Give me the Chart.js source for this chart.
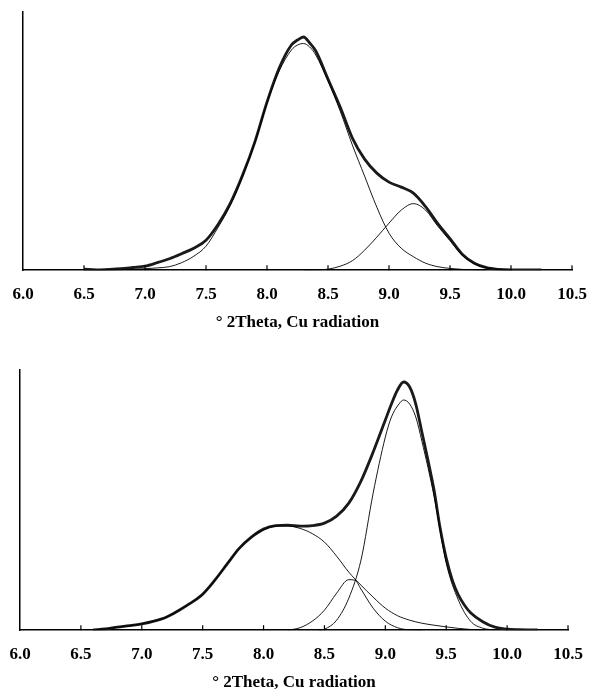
<!DOCTYPE html>
<html>
<head>
<meta charset="utf-8">
<script src="https://cdn.jsdelivr.net/npm/chart.js@4.4.1/dist/chart.umd.min.js"></script>
<style>
  html, body { margin: 0; padding: 0; background: #fff; }
  body { width: 589px; height: 689px; position: relative; overflow: hidden; }
  .box { position: absolute; left: 0; width: 589px; }
  #topBox { top: 0; height: 340px; }
  #botBox { top: 341px; height: 352px; }
</style>
</head>
<body>
<div class="box" id="topBox"><canvas id="topChart"></canvas></div>
<div class="box" id="botBox"><canvas id="botChart"></canvas></div>
<script>
// ---------- data ----------
const xTickLabels = ["6.0","6.5","7.0","7.5","8.0","8.5","9.0","9.5","10.0","10.5"];
const axisTitle = "\u00B0 2Theta, Cu radiation";

// Top panel: observed pattern
const topObsX = [6.5,6.6,6.7,6.8,6.9,7.0,7.1,7.2,7.3,7.4,7.5,7.6,7.7,7.8,7.9,8.0,8.1,8.2,8.25,8.3,8.35,8.4,8.5,8.6,8.7,8.8,8.9,9.0,9.1,9.2,9.3,9.4,9.5,9.6,9.7,9.8,9.9,10.0,10.1,10.25];
const topObsY = [1.0,0.3,0.8,1.5,2.7,4,7.5,11.5,16.5,22,30,46,67,95,128,168,202,225,230,233,227,219,191,163,132,111,97,88,83,77,63.5,46.5,31.5,16,7,2.5,0.8,0.3,0.3,0.2];
// Top panel: fitted component 1
const topP1X = [6.5,6.6,6.7,6.8,6.9,7.0,7.1,7.2,7.3,7.4,7.5,7.6,7.7,7.8,7.9,8.0,8.1,8.2,8.25,8.3,8.35,8.4,8.5,8.6,8.7,8.8,8.9,9.0,9.1,9.2,9.3,9.4,9.5,9.6,9.7,9.8];
const topP1Y = [0,0,0.2,0.5,1,1.5,2.3,3.5,7.5,14,24,43,65,94,127,167,199,220,225,226.5,223,215,189,159,125,94,63,37,22,13.5,7,3.5,1.8,0.8,0.3,0];
// Top panel: fitted component 2
const topP2X = [8.3,8.4,8.5,8.6,8.7,8.8,8.9,9.0,9.1,9.2,9.3,9.4,9.5,9.6,9.7,9.8,9.9,10.0];
const topP2Y = [0,0.3,1,4,9.5,20,33,47,60,66.5,60,44,29.5,15,6.5,2.3,0.7,0.1];

// Bottom panel: observed pattern
const botObsX = [6.6,6.7,6.8,6.9,7.0,7.1,7.2,7.3,7.4,7.5,7.6,7.7,7.8,7.9,8.0,8.1,8.2,8.3,8.4,8.5,8.6,8.7,8.8,8.9,9.0,9.05,9.1,9.15,9.2,9.25,9.3,9.35,9.4,9.45,9.5,9.55,9.6,9.65,9.7,9.8,9.9,10.0,10.1,10.25];
const botObsY = [0.3,1.2,3,4.5,6.3,9,13,19.5,27,36,50,66,81.7,93,101,104.5,105,104,104.5,107,114,127,149,178,210,226,240,248,243,226,198,170,140,102,72,50,35,25,17.5,8.5,3,1,0.5,0.3];
// Bottom panel: broad component A
const botAX = [6.6,6.7,6.8,6.9,7.0,7.1,7.2,7.3,7.4,7.5,7.6,7.7,7.8,7.9,8.0,8.1,8.2,8.3,8.4,8.5,8.6,8.7,8.8,8.9,9.0,9.1,9.2,9.3,9.4,9.5,9.6,9.7,9.8];
const botAY = [0.3,1.2,3,4.5,6.3,9,13,19.5,27,36,50,66,81.7,93,100.5,104,104,101.7,96.5,88,74,58,45,33,22,14.5,10,7,5,3.3,1.8,0.7,0.2];
// Bottom panel: small component B
const botBX = [8.2,8.3,8.4,8.5,8.6,8.7,8.75,8.8,8.9,9.0,9.1,9.2,9.3];
const botBY = [0,2.5,9,20,37,50.5,50,41,22,9,2.5,0.3,0];
// Bottom panel: main component C
const botCX = [8.45,8.5,8.6,8.7,8.8,8.9,9.0,9.05,9.1,9.15,9.2,9.25,9.3,9.4,9.5,9.6,9.7,9.8,9.9];
const botCY = [0,1,10,32,70,137,193,213,224,230,226,213,189,134,67,30,9,2,0.3];

// ---------- helpers ----------
const pts = (xs, ys) => xs.map((x, i) => ({ x: x, y: ys[i] }));
const serif = "'Liberation Serif', 'Times New Roman', serif";

function obsSet(xs, ys) {
  return { data: pts(xs, ys), borderColor: '#1a1a1a', borderWidth: 2.8,
           pointRadius: 0, cubicInterpolationMode: 'monotone', fill: false, order: 2 };
}
function fitSet(xs, ys) {
  return { data: pts(xs, ys), borderColor: '#000', borderWidth: 0.9,
           pointRadius: 0, cubicInterpolationMode: 'monotone', fill: false, order: 1 };
}

const innerTicks = {
  id: 'innerTicks',
  afterDraw(chart) {
    const sx = chart.scales.x, ctx = chart.ctx, b = chart.chartArea.bottom;
    ctx.save();
    ctx.strokeStyle = '#000';
    ctx.lineWidth = 1.2;
    sx.ticks.forEach(t => {
      if (t.value <= sx.min) return;
      const px = sx.getPixelForValue(t.value);
      ctx.beginPath();
      ctx.moveTo(px, b);
      ctx.lineTo(px, b - 5);
      ctx.stroke();
    });
    ctx.restore();
  }
};

function makeChart(id, datasets, yMax, pad) {
  return new Chart(document.getElementById(id), {
    type: 'line',
    data: { datasets: datasets },
    plugins: [innerTicks],
    options: {
      responsive: true,
      maintainAspectRatio: false,
      animation: false,
      events: [],
      layout: { padding: pad },
      plugins: { legend: { display: false }, tooltip: { enabled: false } },
      scales: {
        x: {
          type: 'linear', min: 6, max: 10.5,
          afterFit: (scale) => { scale.paddingLeft = 0; scale.paddingRight = 0; },
          grid: { display: false, drawTicks: false },
          border: { display: true, color: '#000', width: 1.5 },
          ticks: {
            stepSize: 0.5, padding: 14, color: '#000', maxRotation: 0, autoSkip: false,
            font: { family: serif, size: 17, weight: 'bold' },
            callback: (v) => { const i = Math.round((v - 6) / 0.5); return xTickLabels[i]; }
          },
          title: {
            display: true, text: axisTitle, color: '#000',
            font: { family: serif, size: 17, weight: 'bold' },
            padding: { top: -6, bottom: 0 }
          }
        },
        y: {
          min: 0, max: yMax,
          grid: { display: false, drawTicks: false },
          border: { display: true, color: '#000', width: 1.5 },
          ticks: { display: false }
        }
      }
    }
  });
}

makeChart('topChart', [
  obsSet(topObsX, topObsY),
  fitSet(topP1X, topP1Y),
  fitSet(topP2X, topP2Y)
], 258, { top: 12, bottom: 7, left: 23, right: 17 });

makeChart('botChart', [
  obsSet(botObsX, botObsY),
  fitSet(botAX, botAY),
  fitSet(botBX, botBY),
  fitSet(botCX, botCY)
], 260, { top: 29, bottom: 0, left: 20, right: 21 });
</script>
</body>
</html>
